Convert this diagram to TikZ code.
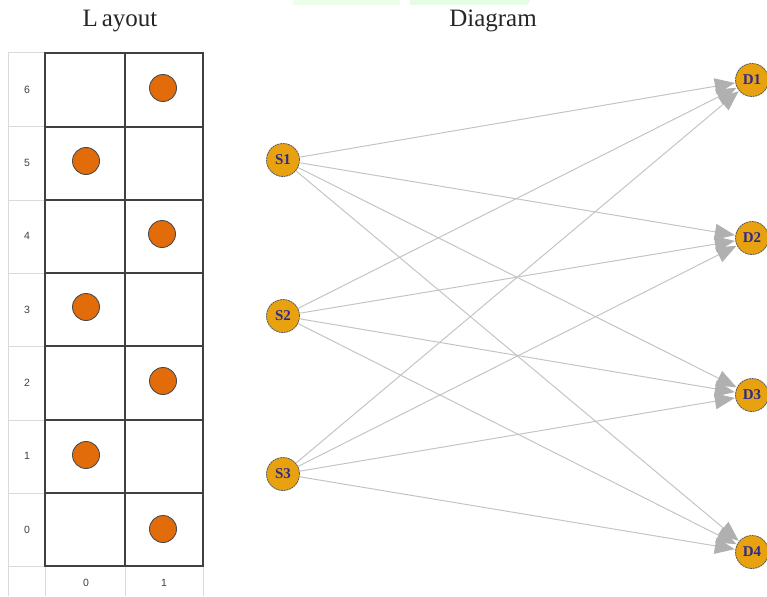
\documentclass[tikz,border=0pt]{standalone}
\usepackage{fontspec}
\setmainfont{Liberation Serif}
\newfontfamily\lblfont{Liberation Sans}
\usetikzlibrary{arrows.meta}
\definecolor{nodefill}{HTML}{E8A10F}
\definecolor{dotfill}{HTML}{E36C0A}
\definecolor{labblue}{HTML}{2E2A8C}
\definecolor{edgegray}{HTML}{C4C4C4}
\definecolor{tipgray}{HTML}{B0B0B0}
\definecolor{gridlight}{HTML}{DADADA}
\tikzset{
  x=1pt, y=-1pt,
  title/.style={font=\fontsize{25}{25}\selectfont, text=black!85},
  rowlab/.style={font=\lblfont\fontsize{10.5}{10.5}\selectfont, text=black!75},
  dot/.style={circle, draw=black!70, line width=0.9pt, fill=dotfill, minimum size=27pt, inner sep=0pt},
  gnode/.style={circle, draw=black!65, dash pattern=on 2pt off 0.7pt, line width=0.8pt, fill=nodefill, minimum size=33pt, inner sep=0pt, text=labblue, font=\bfseries\fontsize{15}{15}\selectfont},
  edge/.style={draw=edgegray, line width=1pt, -{Triangle[length=20pt,width=16pt,color=tipgray]}, shorten >=0.5pt},
}
\begin{document}
\begin{tikzpicture}
\useasboundingbox (0,0) rectangle (767,596);
% top artifacts
\fill[green!8] (293,0) rectangle (400,5);
\fill[black!12!green!10!white] (410,0) -- (530,0) -- (527,5) -- (410,5) -- cycle;
% titles
\node[title] (tl) at (120,21) {L\hspace{4pt}ayout};
\node[title] (td) at (493,21) {Diagram};
% light grid
\foreach \yy in {53,127,200,273,346,420,493,566} \draw[gridlight, line width=1pt] (8,\yy) -- (45,\yy);
\draw[gridlight, line width=1pt] (8,53) -- (8,596);
\draw[gridlight, line width=1pt] (45,566) -- (45,596);
\draw[gridlight, line width=1pt] (125,566) -- (125,596);
\draw[gridlight, line width=1pt] (203,566) -- (203,596);
% main grid
\draw[black!75, line width=1.4pt] (45,53) rectangle (203,566);
\draw[black!75, line width=1.4pt] (125,53) -- (125,566);
\foreach \yy in {127,200,273,346,420,493} \draw[black!75, line width=1.4pt] (45,\yy) -- (203,\yy);
% row labels
\foreach \r/\yy in {6/90,5/163,4/236,3/310,2/383,1/456,0/530} \node[rowlab] (r\r) at (27,\yy) {\r};
\node[rowlab] (c0) at (86,583) {0};
\node[rowlab] (c1) at (164,583) {1};
% dots
\node[dot] (p6) at (163,88) {};
\node[dot] (p5) at (86,161) {};
\node[dot] (p4) at (162,234) {};
\node[dot] (p3) at (86,307) {};
\node[dot] (p2) at (163,381) {};
\node[dot] (p1) at (86,455) {};
\node[dot] (p0) at (163,529) {};
% graph nodes
\node[gnode] (S1) at (283,160) {S1};
\node[gnode] (S2) at (283,316) {S2};
\node[gnode] (S3) at (283,474) {S3};
\node[gnode] (D1) at (752,80) {D1};
\node[gnode] (D2) at (752,238) {D2};
\node[gnode] (D3) at (752,395) {D3};
\node[gnode] (D4) at (752,552) {D4};
\foreach \s in {S1,S2,S3} \foreach \d in {D1,D2,D3,D4} \draw[edge] (\s) -- (\d);
\end{tikzpicture}
\end{document}
